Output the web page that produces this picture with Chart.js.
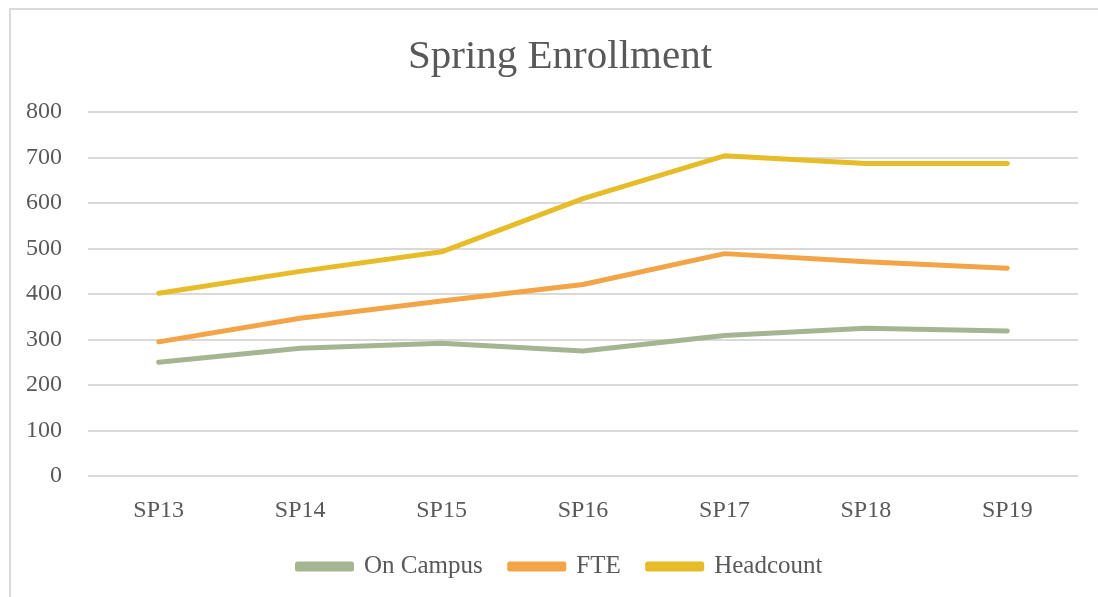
<!DOCTYPE html>
<html>
<head>
<meta charset="utf-8">
<script src="https://cdn.jsdelivr.net/npm/chart.js@4/dist/chart.umd.min.js"></script>
<style>
  html, body { margin: 0; padding: 0; background: #fff; overflow: hidden; }
  #frame {
    position: absolute; left: 9px; top: 8px; width: 1200px; height: 700px;
    border-top: 2px solid #d9d9d9; border-left: 2px solid #d9d9d9;
  }
  #wrap { position: absolute; left: 0; top: 0; width: 1098px; height: 587px; }
</style>
</head>
<body>
<div id="frame"><div id="wrap"><canvas id="enroll-chart"></canvas></div></div>
<script>
var terms = ['SP13', 'SP14', 'SP15', 'SP16', 'SP17', 'SP18', 'SP19'];
var onCampus = [250, 281, 292, 275, 309, 325, 319];
var fte = [295, 347, 385, 421, 489, 471, 457];
var headcount = [402, 450, 493, 610, 704, 687, 687];
var yTicks = [0, 100, 200, 300, 400, 500, 600, 700, 800];

var serif = "'Liberation Serif', 'DejaVu Serif', serif";
var textColor = '#595959';

function series(label, data, color) {
    return {
        label: label,
        data: data,
        borderColor: color,
        backgroundColor: color,
        borderWidth: 5,
        borderCapStyle: 'round',
        borderJoinStyle: 'round',
        pointRadius: 0,
        pointHoverRadius: 0,
        tension: 0
    };
}

var ctx = document.getElementById('enroll-chart').getContext('2d');
var myChart = new Chart(ctx, {
    type: 'line',
    data: {
        labels: terms,
        datasets: [
            series('On Campus', onCampus, '#a5b592'),
            series('FTE', fte, '#f3a447'),
            series('Headcount', headcount, '#e7bc29')
        ]
    },
    options: {
        responsive: true,
        maintainAspectRatio: false,
        animation: false,
        layout: { padding: { left: 0, right: 0, top: 23, bottom: 8 } },
        plugins: {
            title: {
                display: true,
                text: 'Spring Enrollment',
                color: textColor,
                font: { family: serif, size: 41, weight: 'normal' },
                padding: { top: 0, bottom: 30 }
            },
            legend: {
                position: 'bottom',
                labels: {
                    color: textColor,
                    font: { family: serif, size: 25 },
                    boxWidth: 54,
                    boxHeight: 5,
                    padding: 27
                }
            },
            tooltip: { enabled: false }
        },
        scales: {
            x: {
                offset: true,
                grid: { display: false, drawTicks: false },
                border: { display: false },
                ticks: { color: textColor, font: { family: serif, size: 24 }, padding: 20 },
                afterFit: function (scale) { scale.height = 51; }
            },
            y: {
                min: 0,
                max: 800,
                afterBuildTicks: function (scale) {
                    scale.ticks = yTicks.map(function (v) { return { value: v }; });
                },
                afterFit: function (scale) { scale.width = 77; },
                grid: { color: '#d9d9d9', lineWidth: 2, drawTicks: false },
                border: { display: false },
                ticks: { color: textColor, font: { family: serif, size: 24 }, padding: 26 }
            },
            // empty right-hand spacer so title and legend sit centred as in the original
            spacer: {
                type: 'linear',
                position: 'right',
                grid: { display: false, drawTicks: false },
                border: { display: false },
                ticks: { display: false },
                afterFit: function (scale) { scale.width = 31; }
            }
        }
    }
});
</script>
</body>
</html>
